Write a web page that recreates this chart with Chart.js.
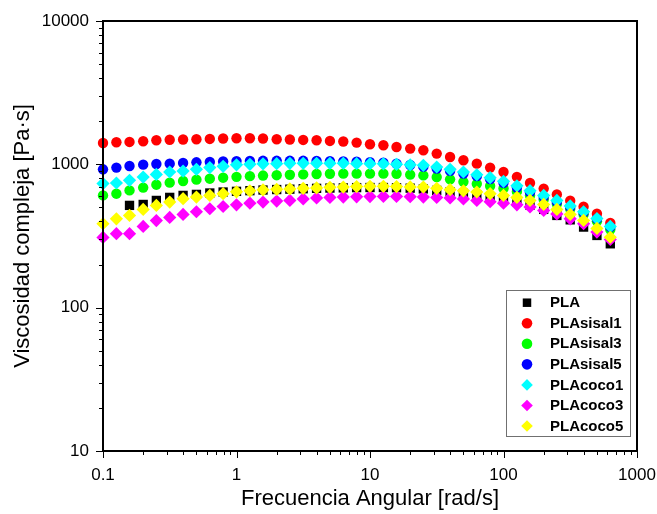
<!DOCTYPE html>
<html><head><meta charset="utf-8">
<script src="https://cdn.jsdelivr.net/npm/chart.js@4/dist/chart.umd.min.js"></script>
<style>html,body{margin:0;padding:0;background:#fff;}#wrap{width:657px;height:514px;}</style>
</head><body><div id="wrap"><canvas id="c" width="657" height="514"></canvas></div>
<script>
// Angular frequency (rad/s)
const freq = [0.1,0.126,0.158,0.2,0.251,0.316,0.398,0.501,0.631,0.794,1,1.26,1.58,2,2.51,3.16,3.98,5.01,6.31,7.94,10,12.6,15.8,20,25.1,31.6,39.8,50.1,63.1,79.4,100,126,158,200,251,316,398,501,631];
// Complex viscosity (Pa·s)
const pla      = [null,null,517,525,560,588,607,617,631,641,648,655,662,667,671,676,680,683,685,688,689,689,687,682,674,658,643,627,612,593,573,549,519,485,440,410,365,319,279];
const plaSisal1 = [1409,1425,1433,1449,1472,1484,1490,1496,1504,1514,1520,1520,1514,1496,1490,1480,1472,1456,1442,1418,1380,1358,1321,1288,1253,1188,1125,1067,1011,949,884,818,741,677,617,557,506,453,390];
const plaSisal3 = [607,624,658,688,721,745,765,782,794,807,818,827,835,840,846,851,856,859,861,861,861,861,859,847,837,815,786,755,731,706,678,645,607,569,529,488,447,400,351];
const plaSisal5 = [923,949,973,995,1005,1011,1021,1033,1038,1046,1053,1056,1058,1058,1058,1058,1056,1053,1049,1043,1035,1025,1010,990,963,935,900,863,827,788,743,688,638,593,547,504,461,416,366];
const plaCoco1  = [734,741,773,815,851,884,898,923,949,968,992,1000,1008,1011,1016,1016,1016,1016,1016,1011,1011,1008,1000,992,984,958,923,884,846,807,761,708,655,607,560,513,467,419,369];
const plaCoco3  = [309,328,328,369,405,426,447,467,490,508,522,536,545,554,560,574,583,588,591,593,596,597,597,595,591,588,583,574,560,548,536,522,504,477,451,417,385,337,299];
const plaCoco5  = [385,417,440,485,517,545,576,591,607,624,643,653,664,669,674,680,685,691,694,699,702,702,699,696,694,680,666,653,641,624,607,588,560,525,485,447,406,357,310];

const seriesNames = ['PLA','PLAsisal1','PLAsisal3','PLAsisal5','PLAcoco1','PLAcoco3','PLAcoco5'];
const seriesValues = [pla, plaSisal1, plaSisal3, plaSisal5, plaCoco1, plaCoco3, plaCoco5];
const xMajorTicks = [0.1, 1, 10, 100, 1000];
const yMajorTicks = [10, 100, 1000, 10000];
const minorMultipliers = [2,3,4,5,6,7,8,9];
const xTitle = 'Frecuencia Angular [rad/s]';
const yTitle = 'Viscosidad compleja [Pa·s]';

// styles
const colors = ['#000000','#ff0000','#00ff00','#0000ff','#00ffff','#ff00ff','#ffff00'];
const shapes = ['rect','circle','circle','circle','rectRot','rectRot','rectRot'];
const radii  = [6.6,5.2,5.2,5.2,6.6,6.6,6.6];
const legendRadii = [6,5.3,5.3,5.3,5.8,5.8,5.8];
const FONT = "'Liberation Sans', Arial, Helvetica, sans-serif";

function buildTicks(majors){
  const out = [];
  majors.forEach((m,i)=>{
    out.push({value:m, major:true});
    if (i < majors.length-1) minorMultipliers.forEach(k=>out.push({value:m*k, major:false}));
  });
  return out;
}

const datasets = seriesNames.map((name,i)=>({
  label: name,
  data: freq.map((f,j)=> seriesValues[i][j]==null ? null : {x:f, y:seriesValues[i][j]}).filter(p=>p),
  showLine:false,
  pointStyle: shapes[i],
  pointRadius: radii[i],
  pointHoverRadius: radii[i],
  pointBorderWidth: 0,
  borderWidth: 0,
  backgroundColor: colors[i],
  borderColor: colors[i],
  order: seriesNames.length - i,
  clip: false,
  legendRadius: legendRadii[i]
}));

function noPad(s){ s.paddingLeft = 0; s.paddingRight = 0; s.paddingTop = 0; s.paddingBottom = 0; }

const decor = {
  id:'decor',
  afterDraw(chart){
    const ctx = chart.ctx, a = chart.chartArea, xs = chart.scales.x, ys = chart.scales.y;
    ctx.save();
    ctx.strokeStyle = '#000'; ctx.lineWidth = 1;
    xs.ticks.forEach(t=>{
      const px = Math.round(xs.getPixelForValue(t.value)) + 0.5;
      const len = t.major ? 7 : 4;
      ctx.beginPath(); ctx.moveTo(px, a.bottom); ctx.lineTo(px, a.bottom + len); ctx.stroke();
    });
    ys.ticks.forEach(t=>{
      const py = Math.round(ys.getPixelForValue(t.value)) + 0.5;
      const len = t.major ? 7 : 4;
      ctx.beginPath(); ctx.moveTo(a.left, py); ctx.lineTo(a.left - len, py); ctx.stroke();
    });
    ctx.lineWidth = 2;
    ctx.strokeRect(a.left, a.top, a.right - a.left, a.bottom - a.top);
    // legend
    const lx = 506.5, ly = 290.5, lw = 124, lh = 146;
    ctx.fillStyle = '#fff'; ctx.fillRect(lx, ly, lw, lh);
    ctx.strokeStyle = '#707070'; ctx.lineWidth = 1; ctx.strokeRect(lx, ly, lw, lh);
    ctx.font = 'bold 15px ' + FONT;
    ctx.textBaseline = 'middle'; ctx.textAlign = 'left';
    chart.data.datasets.forEach((ds,i)=>{
      const y = 302.7 + i*20.55;
      ctx.fillStyle = ds.backgroundColor; ctx.strokeStyle = ds.backgroundColor;
      Chart.helpers.drawPoint(ctx, {pointStyle: ds.pointStyle, radius: ds.legendRadius, rotation:0, borderWidth:0}, 527, y);
      ctx.fillStyle = '#000';
      ctx.fillText(ds.label, 550, y + 0.5);
    });
    ctx.restore();
  }
};

new Chart(document.getElementById('c'), {
  type:'scatter',
  data:{datasets},
  options:{
    responsive:false, animation:false, devicePixelRatio:1,
    layout:{padding:{top:21, right:20, bottom:0, left:0}},
    plugins:{legend:{display:false}, tooltip:{enabled:false}},
    scales:{
      x:{
        type:'logarithmic', min:0.1, max:1000,
        afterBuildTicks(s){ s.ticks = buildTicks(xMajorTicks); },
        afterFit(s){ s.height = 63; noPad(s); },
        grid:{display:false, drawTicks:false}, border:{display:false},
        ticks:{autoSkip:false, maxRotation:0, minRotation:0, padding:14, color:'#000',
          font:{family:FONT, size:17},
          callback(v,i,t){ return t[i].major ? String(v) : ''; }},
        title:{display:true, text:xTitle, color:'#000', font:{family:FONT, size:22}, padding:{top:0,bottom:2}}
      },
      y:{
        type:'logarithmic', min:10, max:10000,
        afterBuildTicks(s){ s.ticks = buildTicks(yMajorTicks); },
        afterFit(s){ s.width = 103; noPad(s); },
        grid:{display:false, drawTicks:false}, border:{display:false},
        ticks:{autoSkip:false, padding:14, color:'#000',
          font:{family:FONT, size:17},
          callback(v,i,t){ return t[i].major ? String(v) : ''; }},
        title:{display:true, text:yTitle, color:'#000', font:{family:FONT, size:22}, padding:{top:10,bottom:0}}
      }
    }
  },
  plugins:[decor]
});
</script></body></html>
